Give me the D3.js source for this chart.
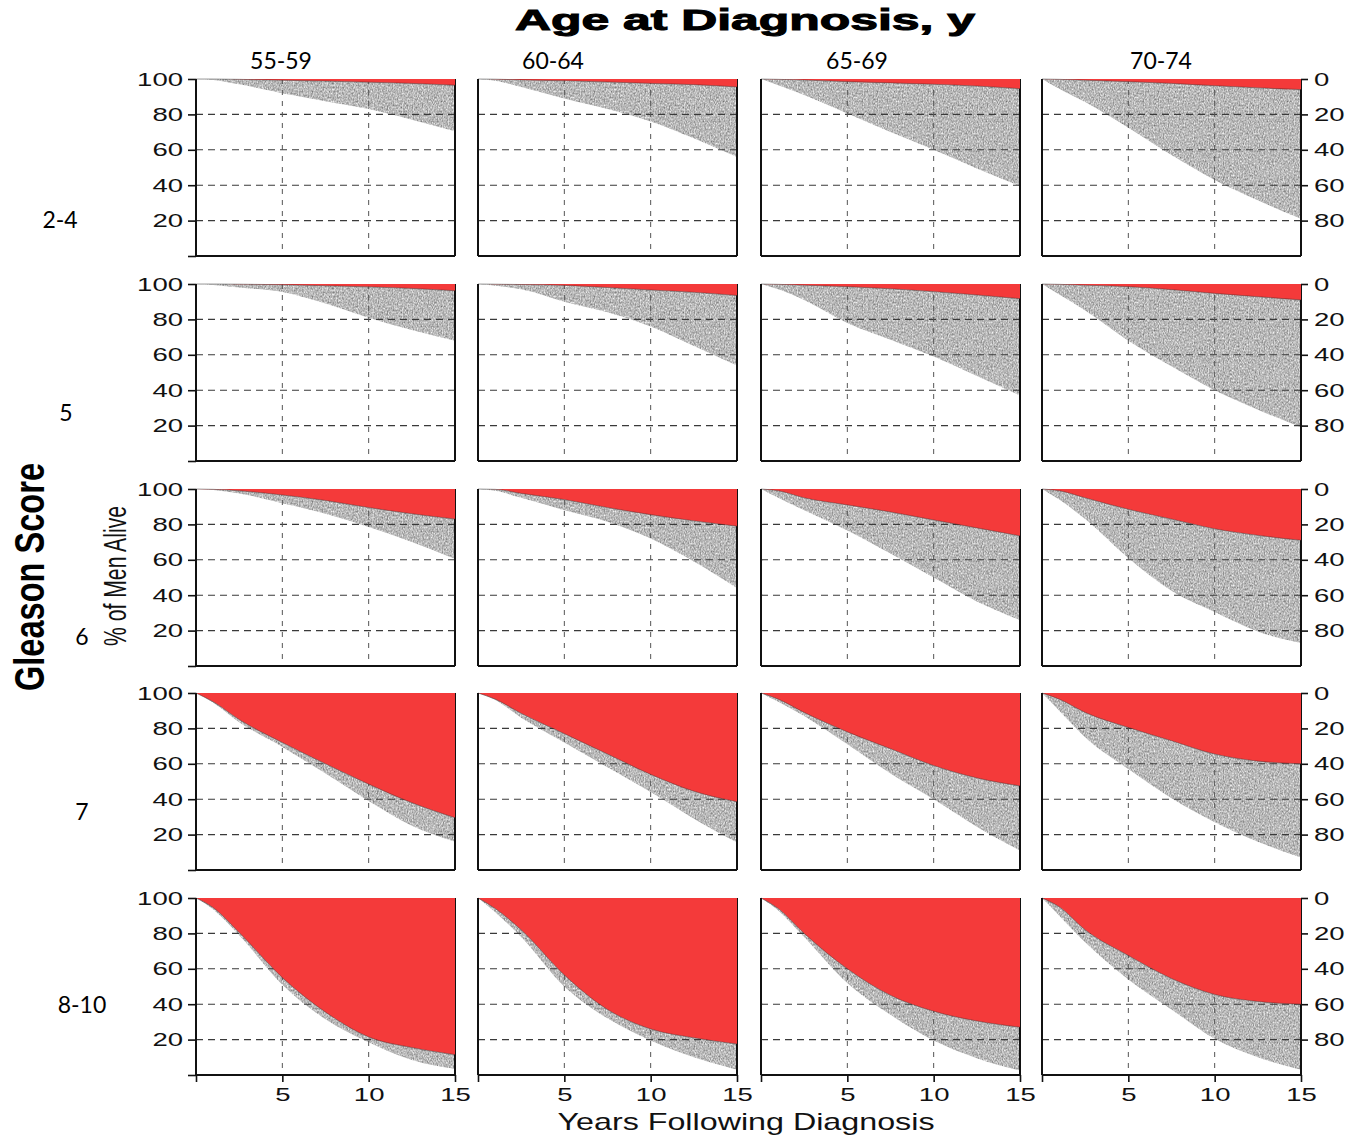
<!DOCTYPE html>
<html>
<head>
<meta charset="utf-8">
<script src="https://cdn.jsdelivr.net/npm/d3@7"></script>
<style>
  body { margin: 0; background: #fff; }
  svg { display: block; }
</style>
</head>
<body>
<svg id="chart" width="1355" height="1138"></svg>
<script>
// ---------------- DATA ----------------
const years = [0, 1, 2.5, 5, 7.5, 10, 12.5, 15];
const ageGroups = ["55-59", "60-64", "65-69", "70-74"];
const gleasonScores = ["2-4", "5", "6", "7", "8-10"];
const leftTicks = [0, 20, 40, 60, 80, 100];
const rightTicks = [20, 40, 60, 80, 100];
const xTicks = [0, 5, 10, 15];

// Upper boundary of the grey band: % not dead of prostate cancer (below the red area)
// one array per age group (55-59, 60-64, 65-69, 70-74), values at `years`
const cancerCurve_2_4 = [
  [100, 100, 99.8, 99.3, 98.8, 98.2, 97.5, 96.5],
  [100, 99.9, 99.5, 99, 98.3, 97.5, 96.8, 95.5],
  [100, 99.8, 99.4, 98.5, 97.8, 97, 96, 94.5],
  [100, 99.8, 99.3, 98.5, 97.5, 96.2, 95, 94]
];
const cancerCurve_5 = [
  [100, 100, 99.9, 99.6, 99, 98.4, 97.5, 96.2],
  [100, 99.9, 99.7, 99.2, 98, 96.6, 95.3, 93.5],
  [100, 99.8, 99.3, 98.5, 97.3, 95.7, 93.8, 91.7],
  [100, 99.8, 99.3, 98.5, 96.8, 94.7, 92.8, 91]
];
const cancerCurve_6 = [
  [100, 99.8, 99, 96.6, 93.5, 89.5, 86, 83],
  [100, 99.8, 97.5, 94, 89.5, 85.5, 82, 79],
  [100, 99, 95, 91, 87, 82.5, 78, 73.5],
  [100, 99, 95, 88.5, 83, 77.5, 73.8, 71]
];
const cancerCurve_7 = [
  [100, 95, 85, 72, 60, 48.5, 38, 29.5],
  [100, 96.5, 88.5, 77, 65.5, 54, 44.5, 38.5],
  [100, 96.5, 89, 78, 68.5, 59, 52, 47.5],
  [100, 96.5, 89, 80.5, 73, 65.5, 61.5, 60]
];
const cancerCurve_8_10 = [
  [100, 94.5, 80.5, 55, 35.5, 21.5, 15.5, 11.5],
  [100, 94, 82, 56.5, 37, 26, 21, 17.5],
  [100, 94, 80, 60, 45, 36, 30.5, 27],
  [100, 95, 82, 67.5, 54.5, 45.5, 41.5, 40]
];

// Lower boundary of the grey band: % of men alive
const aliveCurve_2_4 = [
  [100, 99.5, 97, 92, 87.5, 83, 77, 70.5],
  [100, 99, 95.5, 89, 83, 76, 66.5, 56],
  [100, 96.5, 91, 80.5, 70, 60, 49.5, 39.5],
  [100, 94.5, 87, 72.5, 57, 43, 31.5, 21]
];
const aliveCurve_5 = [
  [100, 99.5, 98, 95.5, 89, 81, 74, 68],
  [100, 99, 97, 90, 84, 76, 65, 54],
  [100, 97, 91, 78, 68.5, 59, 48, 37],
  [100, 94, 85, 68, 53.5, 40, 29, 19]
];
const aliveCurve_6 = [
  [100, 99.5, 97.5, 92, 86, 78.5, 70, 60.5],
  [100, 99, 95, 88, 81.5, 72, 59, 44],
  [100, 95, 88, 76.5, 63.5, 50, 36.5, 26],
  [100, 94, 83, 61, 42.5, 30.5, 19.5, 13]
];
const aliveCurve_7 = [
  [100, 94.5, 83.5, 69.5, 54.5, 39, 25, 16],
  [100, 96, 86, 72, 58, 44, 29, 15.5],
  [100, 95, 87, 71, 54.5, 40, 24.5, 11],
  [100, 90, 75, 57, 40.5, 27, 16, 7]
];
const aliveCurve_8_10 = [
  [100, 93.5, 79, 51, 31.5, 18.5, 8.5, 3.5],
  [100, 92, 78, 50, 32, 19.5, 10, 3],
  [100, 93, 78, 52, 34, 19.5, 9.5, 2.5],
  [100, 90, 75, 54, 37, 20.5, 10, 3]
];

const cancerRows = [cancerCurve_2_4, cancerCurve_5, cancerCurve_6, cancerCurve_7, cancerCurve_8_10];
const aliveRows = [aliveCurve_2_4, aliveCurve_5, aliveCurve_6, aliveCurve_7, aliveCurve_8_10];

// ---------------- LAYOUT ----------------
const colLeft = [196, 478, 761, 1042];
const rowTop = [79, 284, 489, 693, 898];
const panelW = 259, panelH = 177;
const colLabelX = [281, 553, 857, 1161];
const rowLabelPos = [[60, 220], [66, 413], [82, 637], [82, 812], [82, 1005]];

const RED = "#f43a3a";
const svg = d3.select("#chart");

// grain filter to imitate the stippled grey of the print
const defs = svg.append("defs");
const f = defs.append("filter").attr("id", "grain")
  .attr("x", 0).attr("y", 0).attr("width", 1).attr("height", 1)
  .attr("color-interpolation-filters", "sRGB");
f.append("feTurbulence").attr("type", "fractalNoise").attr("baseFrequency", "0.8 0.5")
  .attr("numOctaves", 3).attr("seed", 7).attr("result", "t");
f.append("feColorMatrix").attr("in", "t").attr("type", "saturate").attr("values", 0).attr("result", "g");
const ct = f.append("feComponentTransfer").attr("in", "g").attr("result", "c");
["feFuncR", "feFuncG", "feFuncB"].forEach(fn =>
  ct.append(fn).attr("type", "linear").attr("slope", 0.85).attr("intercept", 0.3));
ct.append("feFuncA").attr("type", "linear").attr("slope", 0).attr("intercept", 1);
f.append("feComposite").attr("in", "c").attr("in2", "SourceGraphic").attr("operator", "in");

const x = d3.scaleLinear().domain([0, 15]).range([0, panelW]);
const y = d3.scaleLinear().domain([0, 100]).range([panelH, 0]);

const tickFont = "'Liberation Sans', Arial, Helvetica, sans-serif";
const stretchLabel = sel => sel.each(function () {
  const t = d3.select(this).text();
  if (t.length) d3.select(this).attr("textLength", t.length * 15.3).attr("lengthAdjust", "spacingAndGlyphs");
});

rowTop.forEach((top, r) => {
  colLeft.forEach((left, c) => {
    const g = svg.append("g").attr("transform", `translate(${left},${top})`);
    const red = cancerRows[r][c];
    const alive = aliveRows[r][c];
    const pts = years.map((t, i) => ({ t, red: red[i], alive: alive[i] }));

    // grey band (death from other causes)
    const greyArea = d3.area().curve(d3.curveMonotoneX)
      .x(d => x(d.t)).y0(d => y(d.alive)).y1(d => y(d.red));
    g.append("path").datum(pts).attr("d", greyArea)
      .attr("fill", "#b8b8b8").attr("filter", "url(#grain)");

    // grid
    g.append("g").selectAll("line").data([20, 40, 60, 80]).join("line")
      .attr("x1", 0).attr("x2", panelW).attr("y1", d => y(d)).attr("y2", d => y(d))
      .attr("stroke", "#3a3a3a").attr("stroke-width", 1.1).attr("stroke-dasharray", "7,5");
    g.append("g").selectAll("line").data([5, 10]).join("line")
      .attr("x1", d => x(d)).attr("x2", d => x(d)).attr("y1", 0).attr("y2", panelH)
      .attr("stroke", "#555").attr("stroke-width", 1).attr("stroke-dasharray", "5,6");

    // right frame line (under the red)
    g.append("line").attr("x1", panelW).attr("x2", panelW).attr("y1", 0).attr("y2", panelH)
      .attr("stroke", "#111").attr("stroke-width", 2);

    // red area (death from prostate cancer)
    const redArea = d3.area().curve(d3.curveMonotoneX)
      .x(d => x(d.t)).y0(y(100)).y1(d => y(d.red));
    g.append("path").datum(pts).attr("d", redArea).attr("fill", RED);
    const redLine = d3.line().curve(d3.curveMonotoneX).x(d => x(d.t)).y(d => y(d.red));
    g.append("path").datum(pts).attr("d", redLine)
      .attr("fill", "none").attr("stroke", "#222").attr("stroke-width", 0.8).attr("stroke-opacity", 0.55);

    // left and bottom frame
    g.append("line").attr("x1", 0).attr("x2", 0).attr("y1", 0).attr("y2", panelH)
      .attr("stroke", "#111").attr("stroke-width", 2);
    g.append("line").attr("x1", 0).attr("x2", panelW).attr("y1", panelH).attr("y2", panelH)
      .attr("stroke", "#111").attr("stroke-width", 2);

    // left axis
    if (c === 0) {
      const ax = g.append("g").call(d3.axisLeft(y).tickValues(leftTicks).tickSize(8).tickPadding(5)
        .tickFormat(d => d === 0 ? "" : d));
      ax.select(".domain").remove();
      ax.selectAll("line").attr("stroke", "#111").attr("stroke-width", 1.6);
      ax.selectAll("text").attr("font-family", tickFont).attr("font-size", 19).attr("fill", "#111").call(stretchLabel);
    }
    // right axis (% dead)
    if (c === 3) {
      const ax = g.append("g").attr("transform", `translate(${panelW},0)`)
        .call(d3.axisRight(y).tickValues(rightTicks).tickSize(7).tickPadding(6)
          .tickFormat(d => 100 - d));
      ax.select(".domain").remove();
      ax.selectAll("line").attr("stroke", "#111").attr("stroke-width", 1.6);
      ax.selectAll("text").attr("font-family", tickFont).attr("font-size", 19).attr("fill", "#111").call(stretchLabel);
    }
    // bottom axis
    if (r === 4) {
      const ax = g.append("g").attr("transform", `translate(0,${panelH})`)
        .call(d3.axisBottom(x).tickValues(xTicks).tickSize(7).tickPadding(6)
          .tickFormat(d => d === 0 ? "" : d));
      ax.select(".domain").remove();
      ax.selectAll("line").attr("stroke", "#111").attr("stroke-width", 1.6);
      ax.selectAll("text").attr("font-family", tickFont).attr("font-size", 19).attr("fill", "#111").call(stretchLabel);
    }
  });
});

// ---------------- TEXT ----------------
svg.append("text").attr("x", 745).attr("y", 30).attr("text-anchor", "middle")
  .attr("font-family", tickFont).attr("font-weight", 900).attr("font-size", 29)
  .attr("stroke", "#000").attr("stroke-width", 1)
  .attr("textLength", 460).attr("lengthAdjust", "spacingAndGlyphs").attr("fill", "#000")
  .text("Age at Diagnosis, y");

svg.append("g").selectAll("text").data(ageGroups).join("text")
  .attr("x", (d, i) => colLabelX[i]).attr("y", 69).attr("text-anchor", "middle")
  .attr("font-family", "Lato, 'Open Sans', sans-serif").attr("font-size", 23).attr("fill", "#000")
  .text(d => d);

svg.append("g").selectAll("text").data(gleasonScores).join("text")
  .attr("x", (d, i) => rowLabelPos[i][0]).attr("y", (d, i) => rowLabelPos[i][1] + 8)
  .attr("text-anchor", "middle")
  .attr("font-family", "Lato, 'Open Sans', sans-serif").attr("font-size", 23).attr("fill", "#000")
  .text(d => d);

svg.append("text").attr("transform", "translate(44,577) rotate(-90)").attr("text-anchor", "middle")
  .attr("font-family", tickFont).attr("font-weight", "bold").attr("font-size", 42)
  .attr("textLength", 228).attr("lengthAdjust", "spacingAndGlyphs").attr("fill", "#000")
  .text("Gleason Score");

svg.append("text").attr("transform", "translate(126,576) rotate(-90)").attr("text-anchor", "middle")
  .attr("font-family", tickFont).attr("font-size", 31)
  .attr("textLength", 140).attr("lengthAdjust", "spacingAndGlyphs").attr("fill", "#111")
  .text("% of Men Alive");

svg.append("text").attr("x", 746).attr("y", 1130).attr("text-anchor", "middle")
  .attr("font-family", tickFont).attr("font-size", 24)
  .attr("textLength", 377).attr("lengthAdjust", "spacingAndGlyphs").attr("fill", "#111")
  .text("Years Following Diagnosis");
</script>
</body>
</html>
